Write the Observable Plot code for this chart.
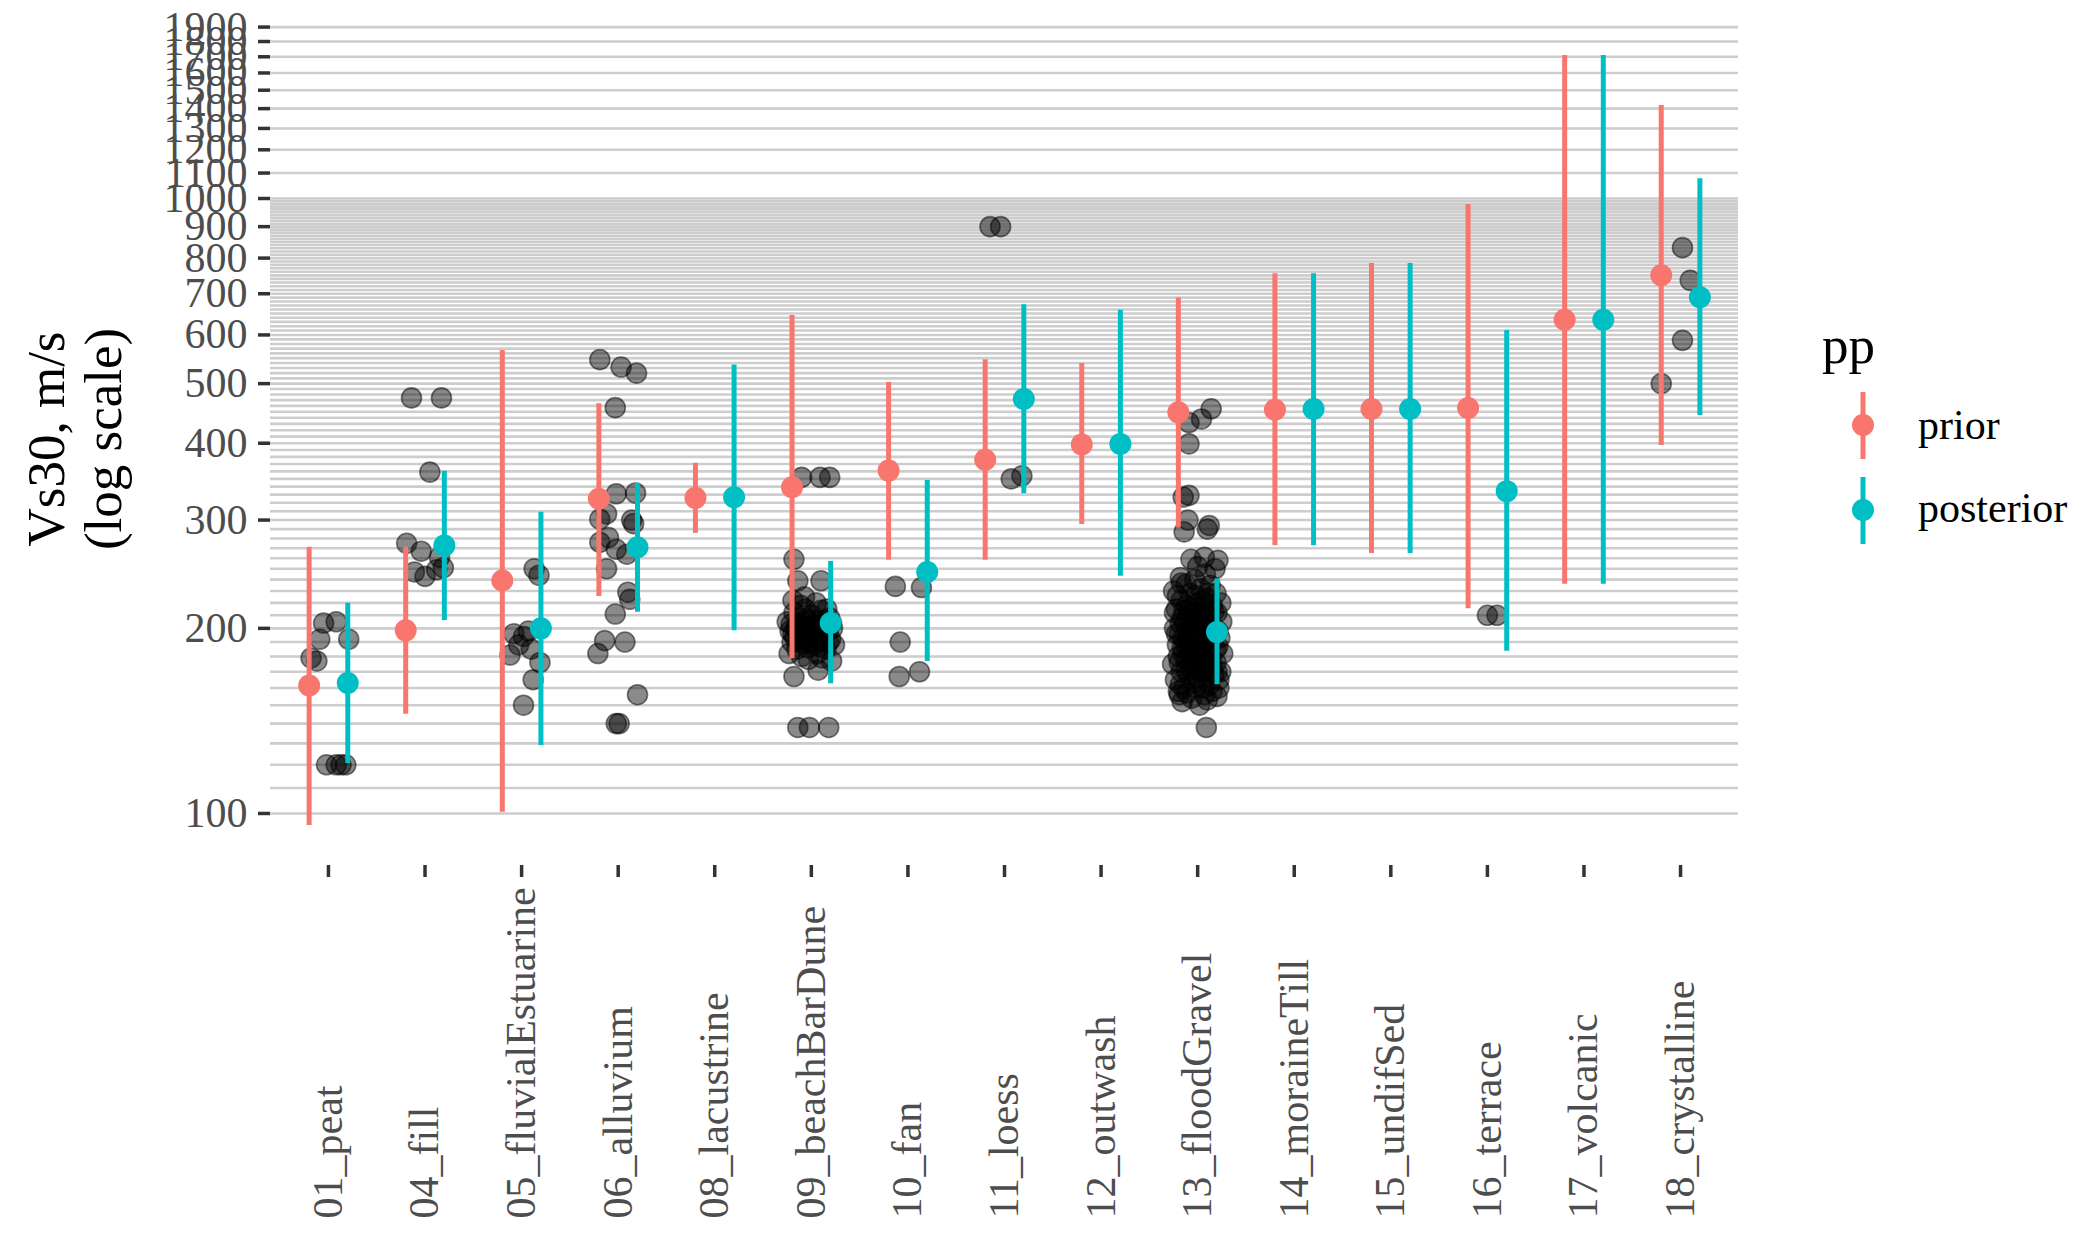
<!DOCTYPE html>
<html>
<head>
<meta charset="utf-8">
<script src="https://cdn.jsdelivr.net/npm/d3@7"></script>
<script src="https://cdn.jsdelivr.net/npm/@observablehq/plot@0.6"></script>
<style>
  html, body { margin: 0; padding: 0; background: #ffffff; }
  #wrap { position: relative; width: 2074px; height: 1235px; font-family: "Liberation Serif", "DejaVu Serif", serif; }
</style>
</head>
<body>
<div id="wrap"></div>
<script>
// ---------------- data ----------------
const categories = ["01_peat","04_fill","05_fluvialEstuarine","06_alluvium","08_lacustrine",
  "09_beachBarDune","10_fan","11_loess","12_outwash","13_floodGravel","14_moraineTill",
  "15_undifSed","16_terrace","17_volcanic","18_crystalline"];

const priorMid = [161.5, 198.5, 239.3, 325, 326, 339.3, 361, 376, 398, 449, 453.3, 454.7, 456.3, 635, 750];
const priorLo  = [95.6, 145, 100.5, 225.4, 285.4, 178.5, 258, 258, 295, 292, 272.5, 264.6, 215.2, 236, 396.6];
const priorHi  = [271, 271, 566, 463.7, 371, 645.5, 502, 547, 539, 689, 754.6, 784, 977.7, 1708, 1416];

const postMid = [163, 272.8, 200, 271, 326.7, 204, 247, 472, 399, 197.2, 454.7, 454.7, 334.3, 635, 691];
const postLo  = [120.6, 206, 129, 212.5, 198.3, 162.5, 176.6, 331, 243, 162, 272.5, 264.6, 183.5, 236, 443.8];
const postHi  = [219.8, 360, 309, 344.4, 536, 257, 348, 671.5, 658, 240.7, 754.6, 784, 610, 1708, 1076.5];

const yTicks = [100,200,300,400,500,600,700,800,900,1000,1100,1200,1300,1400,1500,1600,1700,1800,1900];

// observed Vs30 values: [horizontal jitter (fraction of category step), value]
const obsPeat = [[-0.18,179],[-0.12,177],[-0.09,192],[-0.05,204],[0.08,205],[0.21,192],[-0.02,120],[0.08,120],[0.13,120],[0.18,120]];
const obsFill = [[-0.14,474],[0.17,474],[0.05,359],[-0.19,275],[-0.04,267],[0.15,261],[-0.11,247],[0.0,243],[0.12,249],[0.19,251]];
const obsFluvial = [[0.13,250],[0.18,244],[0.02,194],[0.07,198],[-0.03,188],[-0.12,181],[0.19,176],[0.12,165],[0.02,150],[-0.08,196],[0.1,185]];
const obsAlluvium = [[-0.19,547],[0.03,532],[0.19,520],[-0.03,457],[-0.02,331],[0.18,332],[-0.19,301],[-0.12,307],[0.14,300],[0.16,296],
  [-0.19,276],[-0.1,281],[-0.02,269],[0.09,264],[-0.12,250],[0.1,229],[0.12,223],[-0.03,211],[-0.14,191],[0.07,190],[-0.21,182],[0.2,156],[-0.02,140],[0.01,140]];
const obsBeach = [[-0.10,352],[0.09,352],[0.19,352],[-0.18,259],[-0.14,239],[0.10,239],[-0.19,222],[-0.07,225],[-0.18,167],[0.07,171],[0.21,177],
  [-0.14,138],[-0.02,138],[0.18,138],
  [-0.25,205],[-0.22,198],[-0.2,190],[-0.18,212],[-0.16,200],[-0.15,185],[-0.13,195],[-0.12,208],[-0.1,180],[-0.09,202],[-0.08,192],
  [-0.06,215],[-0.05,198],[-0.04,186],[-0.02,205],[0,195],[0.01,210],[0.03,188],[0.04,200],[0.06,182],[0.07,206],[0.09,196],[0.1,214],
  [0.12,190],[0.13,202],[0.15,185],[0.17,198],[0.19,208],[0.2,192],[0.22,200],[0.24,188],[-0.23,182],[-0.11,218],[0.05,220],[0.16,215],
  [-0.03,178],[0.11,179],
  [-0.21,203],[-0.17,193],[-0.14,204],[-0.11,197],[-0.07,189],[-0.05,207],[-0.01,191],[0.02,202],[0.05,194],[0.08,187],[0.11,203],
  [0.14,195],[0.18,190],[0.21,204],[-0.19,196],[-0.09,198],[0.0,201],[0.09,191],[0.15,206],[-0.13,190]];
const obsFan = [[-0.13,234],[0.14,233],[-0.08,190],[-0.09,167],[0.12,170]];
const obsLoess = [[-0.15,900],[-0.04,900],[0.07,350],[0.18,354]];
const obsFlood = [[0.14,455],[0.04,438],[-0.09,432],[-0.09,399],[-0.15,327],[-0.09,329],[-0.10,300],[0.12,294],[-0.14,287],[0.10,290],
  [-0.07,259],[0.07,261],[0.21,258],[-0.17,237],[0.0,252],[0.18,250],[-0.19,156],[0.09,138],
  [-0.25,230],[-0.22,215],[-0.24,200],[-0.21,188],[-0.26,175],[-0.23,165],[-0.2,158],[-0.18,242],[-0.17,222],[-0.16,208],[-0.19,196],
  [-0.15,182],[-0.17,170],[-0.14,160],[-0.16,152],[-0.12,236],[-0.11,218],[-0.13,204],[-0.1,192],[-0.12,178],[-0.09,168],[-0.11,157],
  [-0.08,228],[-0.06,212],[-0.07,199],[-0.05,186],[-0.08,174],[-0.04,163],[-0.06,154],[-0.03,240],[-0.01,220],[-0.02,206],[0,194],
  [-0.03,181],[0.01,171],[-0.01,160],[0.02,150],[0.03,232],[0.05,216],[0.04,202],[0.06,190],[0.03,177],[0.05,166],[0.07,156],[0.08,245],
  [0.09,224],[0.1,210],[0.08,197],[0.11,184],[0.09,173],[0.12,162],[0.1,153],[0.13,235],[0.15,218],[0.14,204],[0.16,191],[0.13,180],
  [0.17,169],[0.15,158],[0.19,228],[0.2,212],[0.18,199],[0.21,187],[0.19,176],[0.22,165],[0.2,155],[0.24,220],[0.25,205],[0.23,193],
  [0.26,182],[0.24,170],[0.22,160],[-0.24,212],[-0.2,180],[-0.1,210],[0.0,185],[0.07,200],[0.17,195],[-0.13,188],[0.11,170],[-0.05,172],
  [0.06,160],[-0.18,162],[0.14,178],
  [-0.21,226],[-0.18,204],[-0.15,193],[-0.12,171],[-0.09,186],[-0.06,205],[-0.04,175],[-0.02,226],[0.01,203],[0.03,187],[0.05,178],
  [0.07,213],[0.1,194],[0.12,208],[0.15,172],[0.17,213],[0.19,185],[0.21,198],[-0.22,196],[-0.19,176],[-0.14,214],[-0.11,199],
  [-0.07,216],[-0.04,196],[0.0,212],[0.04,222],[0.08,182],[0.11,228],[0.16,200],[0.2,170],[-0.16,186],[-0.08,183],[0.02,196],
  [0.13,188],[-0.01,166],[0.06,170]];
const obsTerrace = [[0.0,210],[0.1,210]];
const obsCrystalline = [[0.02,832],[0.1,736],[0.02,588],[-0.2,500]];

const observations = [
  ["01_peat", obsPeat], ["04_fill", obsFill], ["05_fluvialEstuarine", obsFluvial], ["06_alluvium", obsAlluvium],
  ["09_beachBarDune", obsBeach], ["10_fan", obsFan], ["11_loess", obsLoess], ["13_floodGravel", obsFlood],
  ["16_terrace", obsTerrace], ["18_crystalline", obsCrystalline]
];

// ---------------- build tables ----------------
const DODGE = 0.2;
const summary = [];
categories.forEach((c, i) => {
  summary.push({cat: c, i, pp: "prior", x: i - DODGE, mid: priorMid[i], lo: priorLo[i], hi: priorHi[i]});
  summary.push({cat: c, i, pp: "posterior", x: i + DODGE, mid: postMid[i], lo: postLo[i], hi: postHi[i]});
});
const points = [];
observations.forEach(([c, arr]) => {
  const i = categories.indexOf(c);
  arr.forEach(([j, v]) => points.push({cat: c, x: i + j, v}));
});
const idx = categories.map((c, i) => i);
const gridValues = d3.range(100, 1001, 10).concat(d3.range(1100, 2000, 100));
const colors = {prior: "#F8766D", posterior: "#00BFC4"};

const chart = Plot.plot({
  width: 2074,
  height: 1235,
  marginLeft: 270,
  marginRight: 336,
  marginTop: 12,
  marginBottom: 370,
  style: {fontFamily: "'Liberation Serif', 'DejaVu Serif', serif", background: "#ffffff", overflow: "visible"},
  x: {type: "linear", domain: [-0.6, 14.6]},
  y: {type: "log", domain: [82.3, 2006.6]},
  color: {domain: ["prior", "posterior"], range: [colors.prior, colors.posterior]},
  marks: [
    Plot.ruleY(gridValues, {stroke: "#cdcdcd", strokeWidth: 2.6}),
    Plot.axisY(yTicks, {tickSize: 12, tickPadding: 11, stroke: "#333333", strokeWidth: 3.5,
      fill: "#4d4d4d", fontSize: 42, tickFormat: d => String(d), label: null}),
    Plot.axisX(idx, {tickSize: 12, stroke: "#333333", strokeWidth: 3.5, tickFormat: () => "", label: null}),
    Plot.text(categories, {x: (d, i) => i, frameAnchor: "bottom", dy: 353, rotate: -90,
      textAnchor: "start", lineAnchor: "middle", fontSize: 42, fill: "#4d4d4d"}),
    Plot.text(["Vs30, m/s\n(log scale)"], {frameAnchor: "left", dx: -196, rotate: -90,
      textAnchor: "middle", lineAnchor: "middle", fontSize: 53, lineHeight: 1.08, fill: "#000000"}),
    Plot.dot(points, {x: "x", y: "v", r: 10, fill: "#000000", fillOpacity: 0.46,
      stroke: "#000000", strokeOpacity: 0.5, strokeWidth: 1.6}),
    Plot.ruleX(summary, {x: "x", y1: "lo", y2: "hi", stroke: "pp", strokeWidth: 5}),
    Plot.dot(summary, {x: "x", y: "mid", r: 11, fill: "pp", stroke: null})
  ]
});
document.getElementById("wrap").appendChild(chart);

// ---------------- legend ----------------
const ns = "http://www.w3.org/2000/svg";
const leg = document.createElementNS(ns, "svg");
leg.setAttribute("width", 274);
leg.setAttribute("height", 270);
leg.style.position = "absolute";
leg.style.left = "1800px";
leg.style.top = "300px";
leg.style.fontFamily = "'Liberation Serif', 'DejaVu Serif', serif";
function el(tag, attrs, text) {
  const e = document.createElementNS(ns, tag);
  for (const k in attrs) e.setAttribute(k, attrs[k]);
  if (text != null) e.textContent = text;
  leg.appendChild(e);
  return e;
}
el("text", {x: 22, y: 63, "font-size": 53, fill: "#000"}, "pp");
[["prior", 92, 159, 125, 129], ["posterior", 177, 244, 210, 212]].forEach(([name, y1, y2, cy, ty]) => {
  el("line", {x1: 63, x2: 63, y1, y2, stroke: colors[name], "stroke-width": 5});
  el("circle", {cx: 63, cy, r: 11, fill: colors[name]});
  el("text", {x: 118, y: ty, "font-size": 42, fill: "#000", "dominant-baseline": "middle"}, name);
});
document.getElementById("wrap").appendChild(leg);
</script>
</body>
</html>
